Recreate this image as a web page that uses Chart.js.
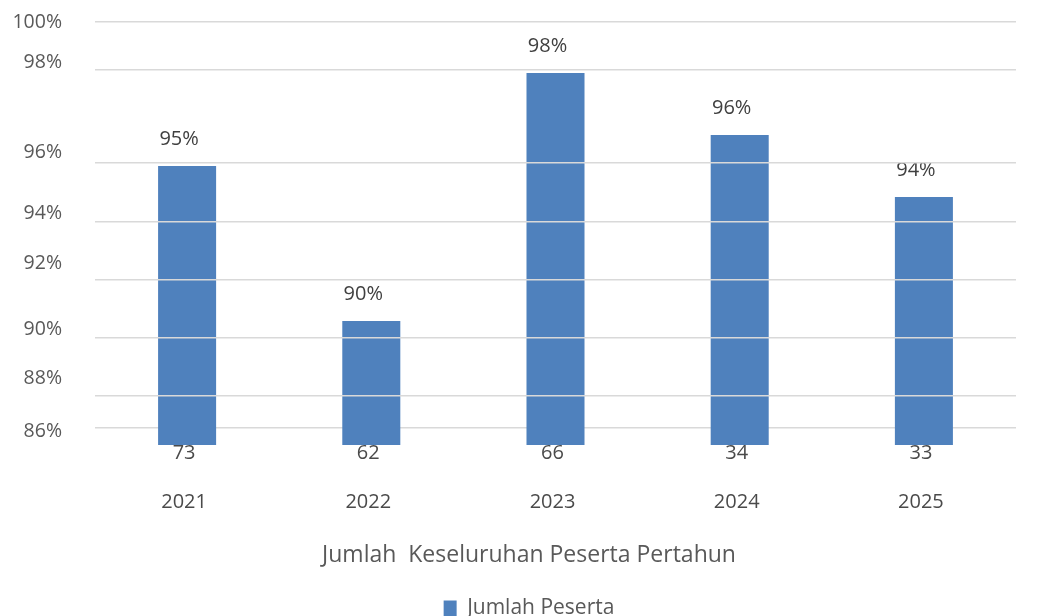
<!DOCTYPE html>
<html>
<head>
<meta charset="utf-8">
<script src="https://cdn.jsdelivr.net/npm/chart.js@4.4.1/dist/chart.umd.min.js"></script>
<style>
  html, body { margin: 0; padding: 0; background: #fff; }
  #wrap { width: 1046px; height: 616px; position: relative; }
</style>
</head>
<body>
<div id="wrap"><canvas id="pesertaChart"></canvas></div>
<script>
// Chart data
const years = ['2021', '2022', '2023', '2024', '2025'];
const percentages = [95, 90, 98, 96, 94];
const participants = [73, 62, 66, 34, 33];

// y axis labels and where they sit on the value scale
const yTickLabels = ['100%', '98%', '96%', '94%', '92%', '90%', '88%', '86%'];
const yTickValues = [99.65, 98.35, 95.45, 93.48, 91.87, 89.74, 88.16, 86.42];

// gridlines (some behind the bars, some drawn over them)
const gridBehind = [99.65, 98.1, 86.55];
const gridOver = [95.1, 93.19, 91.32, 89.45, 87.58];

const yMin = 86;
const yMax = 99.65;

// Draw the percentage above each bar
const percentLabels = {
    id: 'percentLabels',
    afterDatasetsDraw(chart) {
        const ctx = chart.ctx;
        const meta = chart.getDatasetMeta(0);
        ctx.save();
        ctx.font = '20px "Open Sans"';
        ctx.fillStyle = '#404040';
        ctx.textAlign = 'center';
        ctx.textBaseline = 'middle';
        meta.data.forEach((bar, i) => {
            ctx.fillText(percentages[i] + '%', bar.x - 8, bar.y - 27);
        });
        ctx.restore();
    }
};

function fixedTicks(values) {
    return function(axis) {
        axis.ticks = values.map(v => ({ value: v }));
    };
}

const ctx = document.getElementById('pesertaChart').getContext('2d');
new Chart(ctx, {
    type: 'bar',
    data: {
        labels: years,
        datasets: [{
            label: 'Jumlah Peserta',
            data: percentages,
            backgroundColor: '#4F81BD',
            borderWidth: 0,
            categoryPercentage: 1,
            barPercentage: 0.315
        }]
    },
    options: {
        responsive: true,
        maintainAspectRatio: false,
        animation: false,
        layout: {
            padding: { top: 22, left: 12, right: 0, bottom: -13 }
        },
        scales: {
            x: {
                grid: { display: false, drawTicks: false },
                border: { display: false },
                ticks: {
                    color: '#4a4a4a',
                    padding: -4,
                    labelOffset: -3,
                    font: { family: 'Open Sans', size: 20, lineHeight: 1.225 },
                    callback: function(value, index) {
                        return [String(participants[index]), '', years[index]];
                    }
                }
            },
            y: {
                min: yMin,
                max: yMax,
                grid: { display: false, drawTicks: false },
                border: { display: false },
                afterBuildTicks: fixedTicks(yTickValues),
                afterFit: function(axis) {
                    axis.width = 83;
                    axis.paddingTop = 0;
                    axis.paddingBottom = 0;
                },
                ticks: {
                    autoSkip: false,
                    padding: 33,
                    color: '#595959',
                    font: { family: 'Open Sans', size: 19.5 },
                    callback: function(value, index) {
                        return yTickLabels[index];
                    }
                }
            },
            yBehind: {
                position: 'right',
                min: yMin,
                max: yMax,
                border: { display: false },
                grid: { color: '#d9d9d9', lineWidth: 1.5, drawTicks: false, z: -1 },
                afterBuildTicks: fixedTicks(gridBehind),
                afterFit: function(axis) {
                    axis.paddingTop = 0;
                    axis.paddingBottom = 0;
                },
                ticks: { display: false }
            },
            yOver: {
                position: 'right',
                min: yMin,
                max: yMax,
                border: { display: false },
                grid: { color: '#d9d9d9', lineWidth: 1.5, drawTicks: false, z: 1 },
                afterBuildTicks: fixedTicks(gridOver),
                afterFit: function(axis) {
                    axis.width = 30;
                    axis.paddingTop = 0;
                    axis.paddingBottom = 0;
                },
                ticks: { display: false }
            }
        },
        plugins: {
            title: {
                display: true,
                position: 'bottom',
                weight: 500,
                text: 'Jumlah  Keseluruhan Peserta Pertahun',
                color: '#595959',
                font: { family: 'Open Sans', size: 23, weight: 'normal' },
                padding: { top: 31, bottom: 26 }
            },
            legend: {
                position: 'bottom',
                labels: {
                    boxWidth: 13,
                    boxHeight: 16,
                    padding: 3,
                    color: '#595959',
                    font: { family: 'Open Sans', size: 21 }
                }
            },
            tooltip: { enabled: false }
        }
    },
    plugins: [percentLabels]
});
</script>
</body>
</html>
